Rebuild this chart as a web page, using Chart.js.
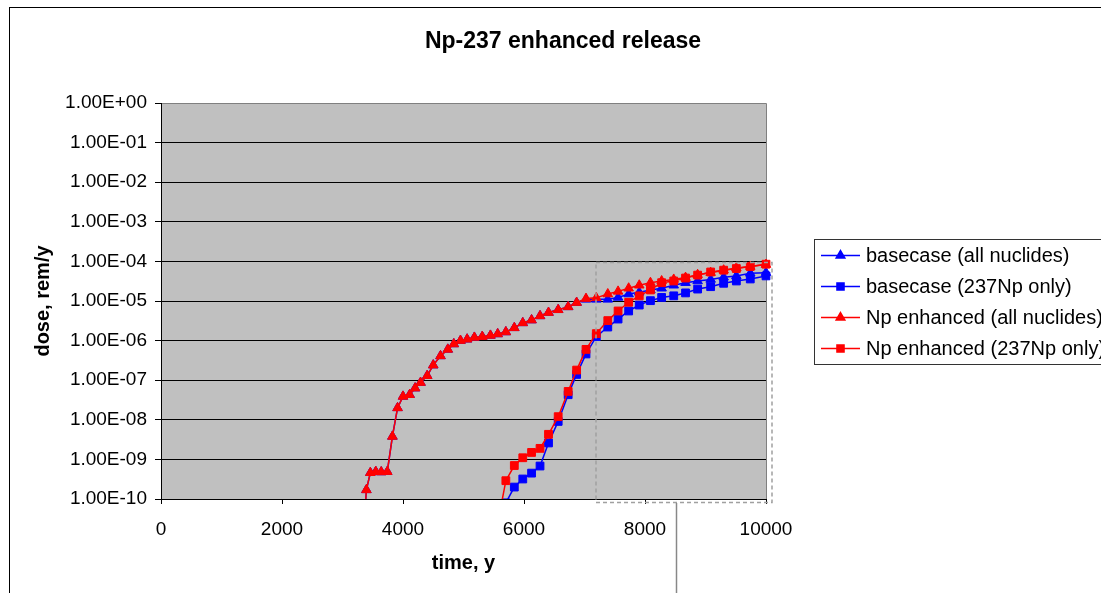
<!DOCTYPE html>
<html>
<head>
<meta charset="utf-8">
<script src="https://cdn.jsdelivr.net/npm/chart.js@4.4.1/dist/chart.umd.min.js"></script>
<style>
  html, body { margin: 0; padding: 0; background: #ffffff; }
  #wrap { width: 1101px; height: 593px; position: relative; overflow: hidden; }
</style>
</head>
<body>
<div id="wrap"><canvas id="GC1" width="1101" height="593"></canvas></div>
<script>
//
// DATOS
//
var chartTitle = "Np-237 enhanced release";
var xTitle = "time, y";
var yTitle = "dose, rem/y";

var years = [3300, 3395, 3460, 3550, 3640, 3740, 3825, 3910, 4000, 4110, 4200, 4290, 4400, 4500, 4620, 4740,
    4840, 4950, 5060, 5180, 5310, 5445, 5565, 5700, 5840, 5980, 6125, 6265, 6405, 6565, 6730, 6870,
    7025, 7195, 7385, 7555, 7730, 7905, 8090, 8275, 8475, 8670, 8870, 9085, 9300, 9510, 9740, 10000];

var basecaseAll = [1e-12, 1.7e-10, 4.6e-10, 4.9e-10, 4.8e-10, 4.9e-10, 3.8e-9, 2.0e-8, 3.9e-8, 4.3e-8, 6.3e-8, 8.7e-8, 1.3e-7, 2.4e-7, 4.1e-7, 6.0e-7,
    8.2e-7, 1.0e-6, 1.08e-6, 1.2e-6, 1.26e-6, 1.35e-6, 1.47e-6, 1.65e-6, 2.1e-6, 2.8e-6, 3.3e-6, 4.2e-6, 5.1e-6, 6.0e-6, 7.1e-6, 9.1e-6,
    1.1e-5, 1.1e-5, 1.1e-5, 1.23e-5, 1.5e-5, 1.66e-5, 1.9e-5, 2.1e-5, 2.5e-5, 2.9e-5, 3.2e-5, 3.5e-5, 4.0e-5, 4.3e-5, 5.0e-5, 5.2e-5];

var basecaseNp = [null, null, null, null, null, null, null, null, null, null, null, null, null, null, null, null,
    null, null, null, null, null, null, 1e-11, 8e-11, 2.0e-10, 3.2e-10, 4.5e-10, 6.8e-10, 2.6e-9, 9.1e-9, 4.3e-8, 1.4e-7,
    4.6e-7, 1.26e-6, 2.2e-6, 3.5e-6, 5.6e-6, 7.9e-6, 1.02e-5, 1.23e-5, 1.35e-5, 1.6e-5, 2.0e-5, 2.3e-5, 2.8e-5, 3.2e-5, 3.6e-5, 4.3e-5];

var enhancedAll = [1e-12, 1.7e-10, 4.6e-10, 4.9e-10, 4.8e-10, 4.9e-10, 3.8e-9, 2.0e-8, 3.9e-8, 4.3e-8, 6.3e-8, 8.7e-8, 1.3e-7, 2.4e-7, 4.1e-7, 6.0e-7,
    8.2e-7, 1.0e-6, 1.08e-6, 1.2e-6, 1.26e-6, 1.35e-6, 1.47e-6, 1.65e-6, 2.1e-6, 2.8e-6, 3.3e-6, 4.2e-6, 5.1e-6, 6.0e-6, 7.1e-6, 9.1e-6,
    1.15e-5, 1.2e-5, 1.5e-5, 1.75e-5, 2.1e-5, 2.5e-5, 2.9e-5, 3.2e-5, 3.5e-5, 3.9e-5, 4.6e-5, 5.2e-5, 6.0e-5, 6.8e-5, 7.4e-5, 8.3e-5];

var enhancedNp = [null, null, null, null, null, null, null, null, null, null, null, null, null, null, null, null,
    null, null, null, null, null, null, 2.4e-11, 2.9e-10, 7e-10, 1.1e-9, 1.5e-9, 1.9e-9, 4.3e-9, 1.2e-8, 5.2e-8, 1.8e-7,
    6.0e-7, 1.5e-6, 3.2e-6, 5.6e-6, 9.3e-6, 1.35e-5, 1.9e-5, 2.9e-5, 3.2e-5, 3.8e-5, 4.5e-5, 5.4e-5, 6.0e-5, 6.6e-5, 7.4e-5, 8.5e-5];

var xTicks = [0, 2000, 4000, 6000, 8000, 10000];
var yExponents = [0, -1, -2, -3, -4, -5, -6, -7, -8, -9, -10];

var FUENTE = "'Liberation Sans', Arial, sans-serif";

FNPuntos = function (valores) {
    var pts = [];
    for (var i = 0; i < years.length; i++) {
        if (valores[i] !== null) pts.push({ x: years[i], y: valores[i] });
    }
    return pts;
}

FNEtiquetaExp = function (v) {
    var e = Math.round(Math.log10(v));
    return "1.00E" + (e < 0 ? "-" : "+") + String(Math.abs(e)).padStart(2, "0");
}

FNSerie = function (label, valores, color, estilo, orden) {
    return {
        label: label,
        data: FNPuntos(valores),
        borderColor: color,
        backgroundColor: color,
        borderWidth: 1.5,
        pointStyle: estilo,
        pointRadius: 5.5,
        pointBorderWidth: 1,
        pointBorderColor: color,
        pointBackgroundColor: color,
        fill: false,
        tension: 0,
        order: orden,
        clip: { left: 5, top: 5, right: 12, bottom: 0 }
    };
}

// fondo gris, borde, titulo, leyenda y recuadro punteado
var decoracion = {
    id: "decoracion",
    beforeDraw: function (chart) {
        var ctx = chart.ctx, a = chart.chartArea;
        ctx.save();
        ctx.fillStyle = "#ffffff";
        ctx.fillRect(0, 0, chart.width, chart.height);
        ctx.strokeStyle = "#000000";
        ctx.lineWidth = 1;
        ctx.strokeRect(9.5, 7.5, 1300, 1000);
        ctx.fillStyle = "#c0c0c0";
        ctx.fillRect(a.left, a.top, a.right - a.left, a.bottom - a.top);
        ctx.strokeStyle = "#808080";
        ctx.beginPath();
        ctx.moveTo(a.left, a.top + 0.5);
        ctx.lineTo(a.right + 0.5, a.top + 0.5);
        ctx.lineTo(a.right + 0.5, a.bottom);
        ctx.stroke();
        ctx.fillStyle = "#000000";
        ctx.font = "bold 23px " + FUENTE;
        ctx.textAlign = "center";
        ctx.textBaseline = "middle";
        ctx.fillText(chartTitle, 563, 42);
        ctx.restore();
    },
    afterDraw: function (chart) {
        var ctx = chart.ctx;
        ctx.save();
        // leyenda
        ctx.strokeStyle = "#333333";
        ctx.lineWidth = 1;
        ctx.strokeRect(814.5, 239.5, 400, 125);
        var ds = chart.data.datasets;
        for (var i = 0; i < ds.length; i++) {
            var y = 255.5 + i * 31;
            ctx.strokeStyle = ds[i].borderColor;
            ctx.fillStyle = ds[i].borderColor;
            ctx.lineWidth = 1.5;
            ctx.beginPath();
            ctx.moveTo(821, y);
            ctx.lineTo(860, y);
            ctx.stroke();
            Chart.helpers.drawPoint(ctx, { pointStyle: ds[i].pointStyle, radius: 5, borderWidth: 1 }, 840.5, y);
            ctx.fillStyle = "#000000";
            ctx.font = "20px " + FUENTE;
            ctx.textAlign = "left";
            ctx.textBaseline = "middle";
            ctx.fillText(ds[i].label, 866, y + 1);
        }
        // recuadro punteado
        ctx.strokeStyle = "#a0a0a0";
        ctx.lineWidth = 1.5;
        ctx.setLineDash([4, 3]);
        ctx.strokeRect(596, 262.5, 176, 240);
        ctx.setLineDash([]);
        ctx.strokeStyle = "#888888";
        ctx.beginPath();
        ctx.moveTo(676.5, 503);
        ctx.lineTo(676.5, 593);
        ctx.stroke();
        ctx.restore();
    }
};

new Chart(document.getElementById("GC1"), {
    type: 'line',
    data: {
        datasets: [
            FNSerie("basecase (all nuclides)", basecaseAll, "#0000ff", "triangle", 4),
            FNSerie("basecase (237Np only)", basecaseNp, "#0000ff", "rect", 3),
            FNSerie("Np enhanced (all nuclides)", enhancedAll, "#ff0000", "triangle", 2),
            FNSerie("Np enhanced (237Np only)", enhancedNp, "#ff0000", "rect", 1)
        ]
    },
    options: {
        responsive: false,
        animation: false,
        layout: { padding: { left: 0, right: 335, top: 103, bottom: 0 } },
        plugins: {
            legend: { display: false },
            title: { display: false },
            tooltip: { enabled: false }
        },
        scales: {
            x: {
                type: 'linear',
                min: 0,
                max: 10000,
                afterBuildTicks: function (s) { s.ticks = xTicks.map(function (v) { return { value: v }; }); },
                afterFit: function (s) { s.height = 94; },
                ticks: { color: "#000000", font: { family: FUENTE, size: 19 }, padding: 14, maxRotation: 0, callback: function (v) { return String(v); } },
                grid: { drawOnChartArea: false, color: "#000000", tickLength: 5 },
                border: { color: "#000000", width: 1 },
                title: { display: true, text: xTitle, color: "#000000", font: { family: FUENTE, size: 20, weight: 'bold' }, padding: { top: 0, bottom: 18 } }
            },
            y: {
                type: 'logarithmic',
                min: 1e-10,
                max: 1,
                afterBuildTicks: function (s) { s.ticks = yExponents.map(function (e) { return { value: Math.pow(10, e) }; }); },
                afterFit: function (s) { s.width = 161; },
                ticks: { color: "#000000", font: { family: FUENTE, size: 19 }, padding: 8, callback: function (v) { return FNEtiquetaExp(v); } },
                grid: {
                    color: function (c) { return c.tick && c.tick.value === 1 ? "#808080" : "#000000"; },
                    tickColor: "#000000",
                    tickLength: 6
                },
                border: { color: "#000000", width: 1 },
                title: { display: true, text: yTitle, color: "#000000", font: { family: FUENTE, size: 20, weight: 'bold' }, padding: { top: 31, bottom: 0 } }
            }
        }
    },
    plugins: [decoracion]
});
</script>
</body>
</html>
